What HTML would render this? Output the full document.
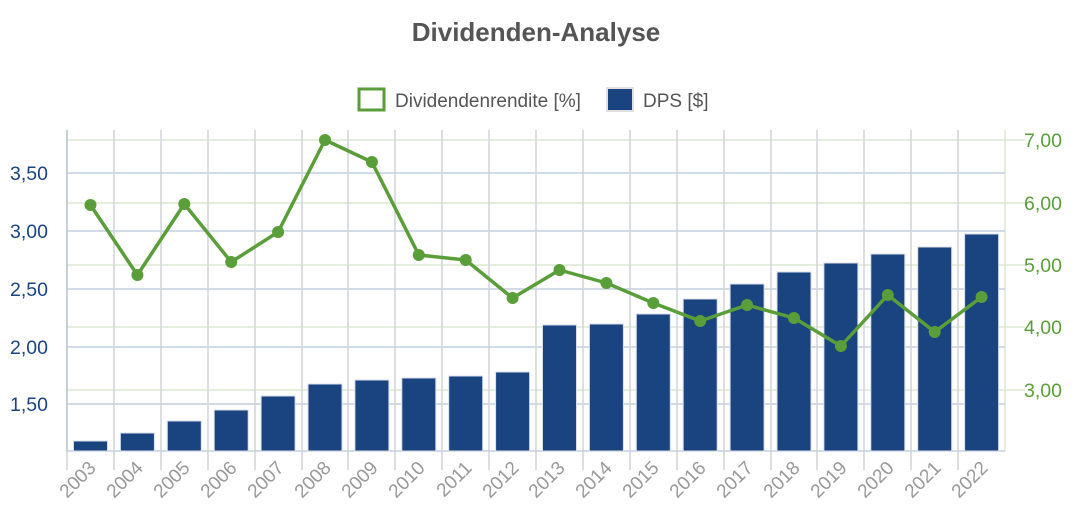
<!DOCTYPE html>
<html><head><meta charset="utf-8"><style>body{margin:0;background:#fff}svg{display:block;font-family:"Liberation Sans",Arial,sans-serif}</style></head><body>
<svg width="1072" height="532" viewBox="0 0 1072 532">
<text x="536" y="41" text-anchor="middle" font-size="26" font-weight="bold" fill="#555">Dividenden-Analyse</text>
<rect x="359" y="89" width="25" height="21" fill="#fff" stroke="#5a9e3a" stroke-width="3"/>
<text x="395" y="107" font-size="19" fill="#555">Dividendenrendite [%]</text>
<rect x="607" y="88" width="26" height="23" fill="#1a4480" stroke="#e0e0e0" stroke-width="2"/>
<text x="643" y="107" font-size="19" fill="#555">DPS [$]</text>
<g stroke="#dbe8d2" stroke-width="1.5">
<line x1="67" y1="140" x2="1025" y2="140"/><line x1="67" y1="203" x2="1025" y2="203"/><line x1="67" y1="265" x2="1025" y2="265"/><line x1="67" y1="327" x2="1025" y2="327"/><line x1="67" y1="390" x2="1025" y2="390"/>
<line x1="1005" y1="130" x2="1005" y2="451"/>
</g>
<g stroke="#c6cfe0" stroke-width="1.5">
<line x1="67" y1="173" x2="1005" y2="173"/><line x1="67" y1="231" x2="1005" y2="231"/><line x1="67" y1="289" x2="1005" y2="289"/><line x1="67" y1="347" x2="1005" y2="347"/><line x1="67" y1="404" x2="1005" y2="404"/>
</g>
<g stroke="#d2d4d9" stroke-width="1.5">
<line x1="114" y1="130" x2="114" y2="470"/><line x1="161" y1="130" x2="161" y2="470"/><line x1="208" y1="130" x2="208" y2="470"/><line x1="255" y1="130" x2="255" y2="470"/><line x1="302" y1="130" x2="302" y2="470"/><line x1="348" y1="130" x2="348" y2="470"/><line x1="395" y1="130" x2="395" y2="470"/><line x1="442" y1="130" x2="442" y2="470"/><line x1="489" y1="130" x2="489" y2="470"/><line x1="536" y1="130" x2="536" y2="470"/><line x1="583" y1="130" x2="583" y2="470"/><line x1="630" y1="130" x2="630" y2="470"/><line x1="677" y1="130" x2="677" y2="470"/><line x1="724" y1="130" x2="724" y2="470"/><line x1="771" y1="130" x2="771" y2="470"/><line x1="817" y1="130" x2="817" y2="470"/><line x1="864" y1="130" x2="864" y2="470"/><line x1="911" y1="130" x2="911" y2="470"/><line x1="958" y1="130" x2="958" y2="470"/>
<line x1="67" y1="451" x2="67" y2="470"/>
</g>
<line x1="67" y1="130" x2="67" y2="451" stroke="#b3bfd1" stroke-width="1.5"/>
<line x1="67" y1="451" x2="1005" y2="451" stroke="#c6cfe0" stroke-width="1.5"/>
<g fill="#1a4480" stroke="#d8dde8" stroke-width="1">
<rect x="73.5" y="441" width="34" height="10"/><rect x="120.4" y="433" width="34" height="18"/><rect x="167.3" y="421" width="34" height="30"/><rect x="214.2" y="410" width="34" height="41"/><rect x="261.1" y="396" width="34" height="55"/><rect x="308" y="384" width="34" height="67"/><rect x="354.9" y="380" width="34" height="71"/><rect x="401.8" y="378" width="34" height="73"/><rect x="448.7" y="376" width="34" height="75"/><rect x="495.6" y="372" width="34" height="79"/><rect x="542.5" y="325" width="34" height="126"/><rect x="589.4" y="324" width="34" height="127"/><rect x="636.3" y="314" width="34" height="137"/><rect x="683.2" y="299" width="34" height="152"/><rect x="730.1" y="284" width="34" height="167"/><rect x="777" y="272" width="34" height="179"/><rect x="823.9" y="263" width="34" height="188"/><rect x="870.8" y="254" width="34" height="197"/><rect x="917.7" y="247" width="34" height="204"/><rect x="964.6" y="234" width="34" height="217"/>
</g>
<polyline fill="none" stroke="#5a9e3a" stroke-width="3.5" stroke-linejoin="round" points="90.5,205 137.4,275 184.3,204 231.2,262 278.1,232 325,140 371.9,162 418.8,255 465.7,260 512.6,298 559.5,270 606.4,283 653.3,303 700.2,321 747.1,305 794,318 840.9,346 887.8,295 934.7,332 981.6,297"/>
<g fill="#5a9e3a">
<circle cx="90.5" cy="205" r="6"/><circle cx="137.4" cy="275" r="6"/><circle cx="184.3" cy="204" r="6"/><circle cx="231.2" cy="262" r="6"/><circle cx="278.1" cy="232" r="6"/><circle cx="325" cy="140" r="6"/><circle cx="371.9" cy="162" r="6"/><circle cx="418.8" cy="255" r="6"/><circle cx="465.7" cy="260" r="6"/><circle cx="512.6" cy="298" r="6"/><circle cx="559.5" cy="270" r="6"/><circle cx="606.4" cy="283" r="6"/><circle cx="653.3" cy="303" r="6"/><circle cx="700.2" cy="321" r="6"/><circle cx="747.1" cy="305" r="6"/><circle cx="794" cy="318" r="6"/><circle cx="840.9" cy="346" r="6"/><circle cx="887.8" cy="295" r="6"/><circle cx="934.7" cy="332" r="6"/><circle cx="981.6" cy="297" r="6"/>
</g>
<g font-size="19.5" fill="#1a4480" text-anchor="end">
<text x="48" y="180">3,50</text><text x="48" y="238">3,00</text><text x="48" y="296">2,50</text><text x="48" y="354">2,00</text><text x="48" y="411">1,50</text>
</g>
<g font-size="19.5" fill="#5a9e3a">
<text x="1024" y="147">7,00</text><text x="1024" y="210">6,00</text><text x="1024" y="272">5,00</text><text x="1024" y="334">4,00</text><text x="1024" y="397">3,00</text>
</g>
<g font-size="19" fill="#999" text-anchor="end">
<text transform="translate(97,469) rotate(-45)">2003</text><text transform="translate(144,469) rotate(-45)">2004</text><text transform="translate(191,469) rotate(-45)">2005</text><text transform="translate(238,469) rotate(-45)">2006</text><text transform="translate(285,469) rotate(-45)">2007</text><text transform="translate(332,469) rotate(-45)">2008</text><text transform="translate(379,469) rotate(-45)">2009</text><text transform="translate(426,469) rotate(-45)">2010</text><text transform="translate(473,469) rotate(-45)">2011</text><text transform="translate(520,469) rotate(-45)">2012</text><text transform="translate(566,469) rotate(-45)">2013</text><text transform="translate(613,469) rotate(-45)">2014</text><text transform="translate(660,469) rotate(-45)">2015</text><text transform="translate(707,469) rotate(-45)">2016</text><text transform="translate(754,469) rotate(-45)">2017</text><text transform="translate(801,469) rotate(-45)">2018</text><text transform="translate(848,469) rotate(-45)">2019</text><text transform="translate(895,469) rotate(-45)">2020</text><text transform="translate(942,469) rotate(-45)">2021</text><text transform="translate(989,469) rotate(-45)">2022</text>
</g>
</svg>
</body></html>
